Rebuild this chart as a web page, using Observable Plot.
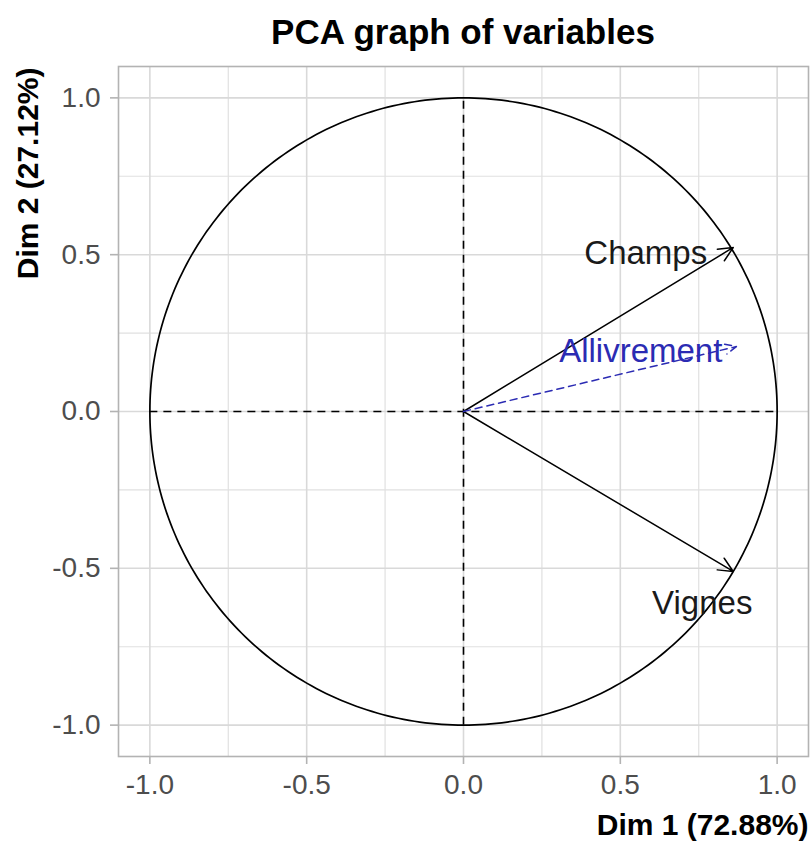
<!DOCTYPE html>
<html>
<head>
<meta charset="utf-8">
<script src="https://cdn.jsdelivr.net/npm/d3@7"></script>
<script src="https://cdn.jsdelivr.net/npm/@observablehq/plot@0.6"></script>
<style>
  html, body { margin: 0; padding: 0; background: #fff; }
  #wrap { position: relative; width: 810px; height: 842px; font-family: "Liberation Sans", Arial, sans-serif; }
  #title { position: absolute; left: 118px; top: 0; width: 690px; height: 60px; line-height: 64px; text-align: center; font-size: 35px; font-weight: bold; color: #000; }
  #chart { position: absolute; left: 0; top: 60px; }
</style>
</head>
<body>
<div id="wrap">
  <div id="title">PCA graph of variables</div>
  <div id="chart"></div>
</div>
<script>
// Active variables
const activeNames = ["Champs", "Vignes"];
const activeDim1 = [0.86, 0.86];
const activeDim2 = [0.523, -0.51];
// Supplementary variable
const supNames = ["Allivrement"];
const supDim1 = [0.87];
const supDim2 = [0.207];
// Axis ticks
const majorTicks = [-1, -0.5, 0, 0.5, 1];
const minorTicks = [-0.75, -0.25, 0.25, 0.75];
const xLabel = "Dim 1 (72.88%)";
const yLabel = "Dim 2 (27.12%)";

const active = activeNames.map((n, i) => ({name: n, x: activeDim1[i], y: activeDim2[i]}));
const sup = supNames.map((n, i) => ({name: n, x: supDim1[i], y: supDim2[i]}));
// unit correlation circle (reference shape)
const circle = d3.range(0, 361).map(a => ({x: Math.cos(a * Math.PI / 180), y: Math.sin(a * Math.PI / 180)}));

const font = "Liberation Sans, Arial, sans-serif";
const chart = Plot.plot({
  width: 810,
  height: 782,
  marginLeft: 118,
  marginRight: 2,
  marginTop: 6,
  marginBottom: 86,
  style: {fontFamily: font, background: "#fff", overflow: "visible"},
  x: {domain: [-1.1, 1.1]},
  y: {domain: [-1.1, 1.1]},
  marks: [
    Plot.gridX(minorTicks, {stroke: "#e0e0e0", strokeOpacity: 1, strokeWidth: 1.2}),
    Plot.gridY(minorTicks, {stroke: "#e0e0e0", strokeOpacity: 1, strokeWidth: 1.2}),
    Plot.gridX(majorTicks, {stroke: "#d9d9d9", strokeOpacity: 1, strokeWidth: 1.6}),
    Plot.gridY(majorTicks, {stroke: "#d9d9d9", strokeOpacity: 1, strokeWidth: 1.6}),
    Plot.frame({stroke: "#b3b3b3", strokeWidth: 1.6}),
    Plot.axisX({ticks: majorTicks, tickFormat: d => d.toFixed(1), tickSize: 8, tickPadding: 10, fontSize: 28, color: "#4d4d4d", stroke: "#b3b3b3", strokeWidth: 1.6, label: null}),
    Plot.axisY({ticks: majorTicks, tickFormat: d => d.toFixed(1), tickSize: 8, tickPadding: 10, fontSize: 28, color: "#4d4d4d", stroke: "#b3b3b3", strokeWidth: 1.6, label: null}),
    Plot.line(circle, {x: "x", y: "y", stroke: "#000", strokeWidth: 1.7}),
    Plot.ruleX([0], {y1: -1, y2: 1, stroke: "#000", strokeWidth: 1.6, strokeDasharray: "8,6"}),
    Plot.ruleY([0], {x1: -1, x2: 1, stroke: "#000", strokeWidth: 1.6, strokeDasharray: "8,6"}),
    Plot.arrow(active, {x1: 0, y1: 0, x2: "x", y2: "y", stroke: "#000", strokeWidth: 1.5, headLength: 16, headAngle: 50}),
    Plot.arrow(sup, {x1: 0, y1: 0, x2: "x", y2: "y", stroke: "#2b2bb3", strokeWidth: 1.5, headLength: 12, headAngle: 50, strokeDasharray: "7,5"}),
    Plot.text(active.filter(d => d.name === "Champs"), {x: "x", y: "y", text: "name", textAnchor: "end", dx: -26, dy: 6, fontSize: 33, fill: "#1a1a1a", fontFamily: font}),
    Plot.text(active.filter(d => d.name === "Vignes"), {x: "x", y: "y", text: "name", textAnchor: "middle", dx: -31, dy: 32, fontSize: 33, fill: "#1a1a1a", fontFamily: font}),
    Plot.text(sup, {x: "x", y: "y", text: "name", textAnchor: "end", dx: -14, dy: 5, fontSize: 33, fill: "#2b2bb3", fontFamily: font}),
    Plot.text([xLabel], {frameAnchor: "bottom-right", text: d => d, textAnchor: "end", lineAnchor: "middle", dy: 69, fontSize: 30, fontWeight: "bold", fill: "#000", fontFamily: font}),
    Plot.text([yLabel], {frameAnchor: "top-left", text: d => d, textAnchor: "end", lineAnchor: "middle", rotate: -90, dx: -90, dy: 1, fontSize: 30, fontWeight: "bold", fill: "#000", fontFamily: font})
  ]
});
document.getElementById("chart").appendChild(chart);
</script>
</body>
</html>
